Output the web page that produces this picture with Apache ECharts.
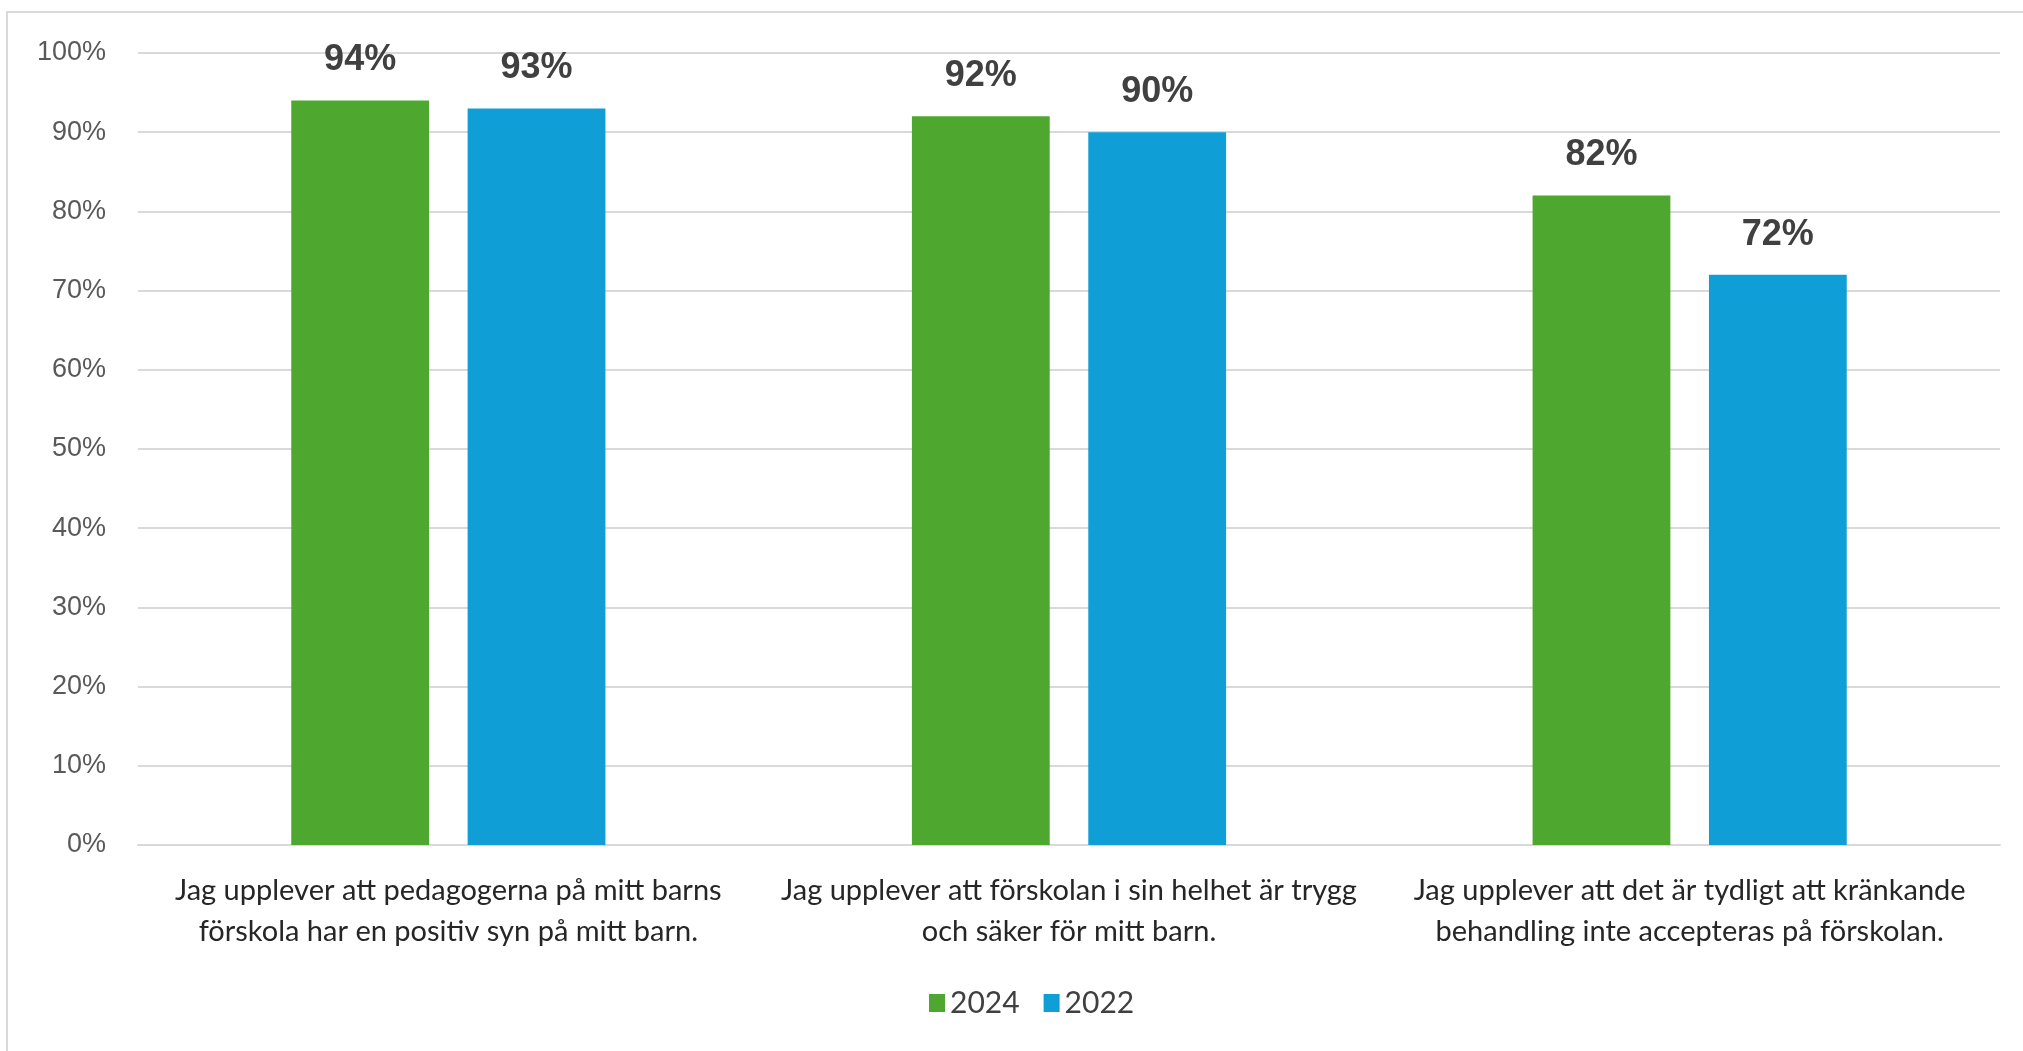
<!DOCTYPE html>
<html>
<head>
<meta charset="utf-8">
<script src="https://cdn.jsdelivr.net/npm/echarts@6/dist/echarts.min.js"></script>
<style>
  html, body { margin: 0; padding: 0; background: #fff; }
  #main { width: 2023px; height: 1051px; }
</style>
</head>
<body>
<div id="main"></div>
<script>
// kategorier (frågor)
const categories = [
  'Jag upplever att pedagogerna på mitt barns\nförskola har en positiv syn på mitt barn.',
  'Jag upplever att förskolan i sin helhet är trygg\noch säker för mitt barn.',
  'Jag upplever att det är tydligt att kränkande\nbehandling inte accepteras på förskolan.'
];
const seriesNames = ['2024', '2022'];
const values2024 = [94, 92, 82];
const values2022 = [93, 90, 72];

const narrowFont = "'Liberation Sans Narrow', 'Arial Narrow', Lato, sans-serif";
const arialFont = "'Liberation Sans', Arial, sans-serif";

let myChart = echarts.init(document.getElementById('main'));
myChart.setOption({
  animation: false,
  color: ['#4EA72E', '#0F9ED5'],
  graphic: [{
    type: 'rect',
    shape: { x: 7, y: 12, width: 2100, height: 1100 },
    style: { fill: 'none', stroke: '#d9d9d9', lineWidth: 2 },
    silent: true
  }],
  grid: {
    left: 138,
    right: 23,
    top: 53,
    bottom: 206
  },
  legend: {
    data: seriesNames,
    left: 924,
    top: 983,
    itemWidth: 16,
    itemHeight: 18,
    itemGap: 24,
    icon: 'rect',
    textStyle: { fontFamily: narrowFont, fontSize: 30, color: '#404040' }
  },
  xAxis: {
    type: 'category',
    data: categories,
    axisLine: { show: true, lineStyle: { color: '#d9d9d9', width: 2 } },
    axisTick: { show: false },
    axisLabel: {
      interval: 0,
      margin: 25,
      fontFamily: narrowFont,
      fontSize: 29,
      lineHeight: 41,
      color: '#262626',
      align: 'center'
    }
  },
  yAxis: {
    type: 'value',
    min: 0,
    max: 100,
    interval: 10,
    axisLine: { show: false },
    axisTick: { show: false },
    axisLabel: {
      formatter: '{value}%',
      margin: 32,
      fontFamily: arialFont,
      fontSize: 27,
      color: '#595959'
    },
    splitLine: {
      show: true,
      lineStyle: { color: '#d9d9d9', width: 2 }
    }
  },
  series: [
    {
      name: seriesNames[0],
      type: 'bar',
      data: values2024,
      barWidth: '22.2%',
      barGap: '28%',
      label: {
        show: true,
        position: 'top',
        distance: 22,
        formatter: '{c}%',
        fontFamily: arialFont,
        fontWeight: 'bold',
        fontSize: 36,
        color: '#404040'
      }
    },
    {
      name: seriesNames[1],
      type: 'bar',
      data: values2022,
      barWidth: '22.2%',
      barGap: '28%',
      label: {
        show: true,
        position: 'top',
        distance: 22,
        formatter: '{c}%',
        fontFamily: arialFont,
        fontWeight: 'bold',
        fontSize: 36,
        color: '#404040'
      }
    }
  ]
});
</script>
</body>
</html>
